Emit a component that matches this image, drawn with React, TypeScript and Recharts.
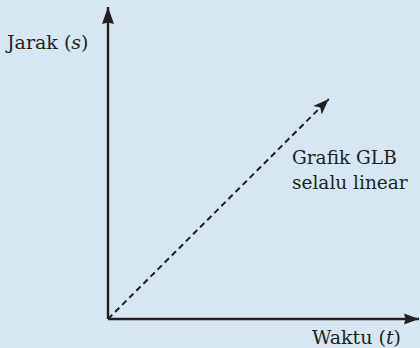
import React from "react";
import { ComposedChart, Line, XAxis, YAxis, Customized } from "recharts";

// Series data (time t, distance s)
const xAxisLine = [
  { t: 0, s: 0 },
  { t: 10, s: 0 },
];
const yAxisLine = [
  { t: 0, s: 0 },
  { t: 0, s: 10 },
];
const glbLine = [
  { t: 0, s: 0 },
  { t: 7.1, s: 7.05 },
];

const yLabel = ["Jarak (", "s", ")"];
const xLabel = ["Waktu (", "t", ")"];
const noteLines = ["Grafik GLB", "selalu linear"];

const INK = "#231f20";
const BG = "#d6e7f1";
const FONT = "'DejaVu Serif', serif";

const makeArrow = (len: number, half: number, notch: number) => {
  const last: { x?: number; y?: number } = {};
  return (props: any) => {
    const { cx, cy, index, points } = props;
    let prevX: number | undefined;
    let prevY: number | undefined;
    let isLast = false;
    if (points && points.length) {
      isLast = index === points.length - 1;
      if (isLast && index > 0) {
        prevX = points[index - 1].x;
        prevY = points[index - 1].y;
      }
    } else {
      isLast = index > 0;
      prevX = last.x;
      prevY = last.y;
    }
    if (index === 0) {
      last.x = cx;
      last.y = cy;
    }
    if (!isLast || prevX === undefined || prevY === undefined) {
      return <g key={`d-${index}`} />;
    }
    const deg = (Math.atan2(cy - prevY, cx - prevX) * 180) / Math.PI;
    const d = `M0,0 L${-len},${-half} L${-len + notch},0 L${-len},${half} Z`;
    return (
      <g key={`d-${index}`} transform={`translate(${cx},${cy}) rotate(${deg})`}>
        <path d={d} fill={INK} stroke="none" />
      </g>
    );
  };
};

const Labels = () => (
  <g fontFamily={FONT} fill={INK}>
    <text x={7} y={49} fontSize={19}>
      <tspan>{yLabel[0]}</tspan>
      <tspan fontStyle="italic">{yLabel[1]}</tspan>
      <tspan>{yLabel[2]}</tspan>
    </text>
    <text x={401} y={344} textAnchor="end" fontSize={19}>
      <tspan>{xLabel[0]}</tspan>
      <tspan fontStyle="italic">{xLabel[1]}</tspan>
      <tspan>{xLabel[2]}</tspan>
    </text>
    <text x={292} y={164} fontSize={18.5}>{noteLines[0]}</text>
    <text x={292} y={189} fontSize={18.5}>{noteLines[1]}</text>
  </g>
);

export default function App() {
  return (
    <div
      style={{
        position: "fixed",
        left: 0,
        top: 0,
        width: 420,
        height: 348,
        background: BG,
      }}
    >
      <ComposedChart
        width={420}
        height={348}
        margin={{ top: 7, right: 1, bottom: 29, left: 108 }}
      >
        <XAxis type="number" dataKey="t" domain={[0, 10]} hide />
        <YAxis type="number" dataKey="s" domain={[0, 10]} hide />
        <Line
          data={glbLine}
          dataKey="s"
          stroke={INK}
          strokeWidth={2}
          strokeDasharray="6 4"
          dot={makeArrow(16, 6, 4)}
          activeDot={false}
          isAnimationActive={false}
        />
        <Line
          data={xAxisLine}
          dataKey="s"
          stroke={INK}
          strokeWidth={2.4}
          dot={makeArrow(15, 5.5, 1.5)}
          activeDot={false}
          isAnimationActive={false}
        />
        <Line
          data={yAxisLine}
          dataKey="s"
          stroke={INK}
          strokeWidth={2.4}
          dot={makeArrow(17, 6, 1.5)}
          activeDot={false}
          isAnimationActive={false}
        />
        <Customized component={Labels} />
      </ComposedChart>
    </div>
  );
}
